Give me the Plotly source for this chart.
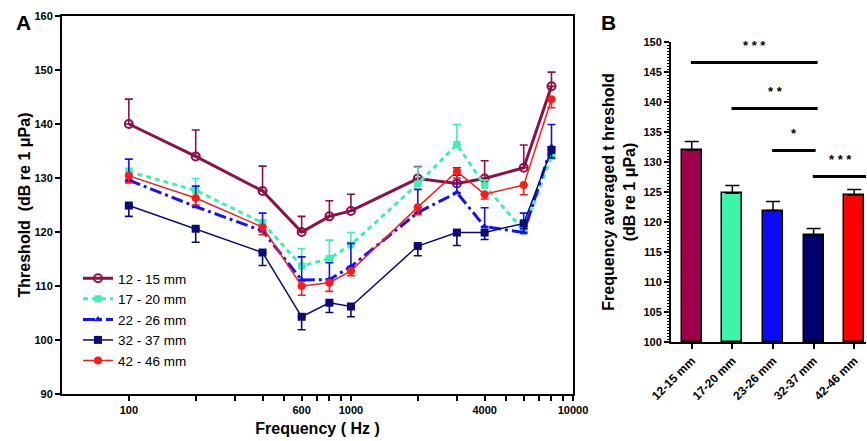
import math
import plotly.graph_objects as go

# ---------------- data: panel A ----------------
freqs = [100, 200, 400, 600, 800, 1000, 2000, 3000, 4000, 6000, 8000]

names = ["12 - 15 mm", "17 - 20 mm", "22 - 26 mm", "32 - 37 mm", "42 - 46 mm"]

thr_12_15 = [140.0, 134.0, 127.6, 120.0, 122.9, 123.9, 129.9, 129.0, 129.9, 131.9, 147.0]
err_12_15 = [4.6, 4.9, 4.6, 2.9, 2.9, 3.1, 2.2, 2.9, 3.3, 4.2, 2.6]

thr_17_20 = [131.2, 127.7, 121.7, 113.7, 115.1, 117.6, 128.9, 136.2, 128.6, 120.2, 134.0]
err_17_20 = [0.6, 2.2, 0.5, 3.2, 3.4, 2.3, 3.1, 3.7, 1.0, 0.5, 0.5]

thr_22_26 = [129.6, 124.7, 120.2, 111.1, 111.2, 113.6, 123.6, 127.3, 121.0, 119.9, 135.8]
err_22_26 = [3.9, 3.8, 3.3, 4.3, 3.1, 4.3, 4.3, 3.2, 3.5, 3.6, 4.1]

thr_32_37 = [124.9, 120.6, 116.2, 104.3, 106.9, 106.2, 117.4, 119.9, 119.9, 121.6, 135.2]
err_32_37 = [2.0, 2.5, 2.4, 2.4, 1.8, 1.9, 1.8, 2.4, 1.3, 1.0, 1.5]

thr_42_46 = [130.4, 126.3, 120.9, 110.0, 110.6, 112.8, 124.6, 131.2, 127.0, 128.7, 144.6]
err_42_46 = [1.3, 1.3, 1.4, 1.7, 1.6, 0.9, 1.4, 1.2, 0.9, 1.8, 1.6]

x_tickvals = [100, 200, 300, 400, 500, 600, 700, 800, 900, 1000,
              2000, 3000, 4000, 5000, 6000, 7000, 8000, 9000, 10000]
x_labelled = [100, 600, 1000, 4000, 10000]

# ---------------- data: panel B ----------------
groups = ["12-15 mm", "17-20 mm", "23-26 mm", "32-37 mm", "42-46 mm"]
avg_thr = [132.0, 124.8, 121.9, 117.8, 124.5]
avg_err = [1.4, 1.3, 1.5, 1.1, 0.9]

sig_labels = ["* * *", "* *", "*", "* * *"]
sig_from = [0, 1, 2, 3]
sig_to = [3.1, 3.1, 3.05, 4.3]
sig_level = [146.6, 138.9, 131.9, 127.6]

# ---------------- styles ----------------
line_colors = ["#8E1049", "#3FF0AE", "#1414F0", "#0A0A78", "#FF1A1A"]
bar_colors = ["#A0004B", "#3CF5A8", "#0A0AFF", "#00006E", "#FF0000"]
styles = [
    dict(width=3, dash="solid", symbol="circle-open", size=8, up=True),
    dict(width=3, dash="5px,4px", symbol="square", size=7, up=True),
    dict(width=3, dash="12px,4px,3px,4px", symbol="triangle-up", size=7, up=True),
    dict(width=1.5, dash="solid", symbol="square", size=8, up=False),
    dict(width=1.5, dash="solid", symbol="circle", size=8, up=False),
]
series = [thr_12_15, thr_17_20, thr_22_26, thr_32_37, thr_42_46]
errors = [err_12_15, err_17_20, err_22_26, err_32_37, err_42_46]

FONT = "Arial, Liberation Sans, Helvetica, sans-serif"
W, H = 867, 441

fig = go.Figure()

for name, vals, errs, col, st in zip(names, series, errors, line_colors, styles):
    zeros = [0] * len(errs)
    fig.add_trace(go.Scatter(
        x=freqs, y=vals, name=name, mode="lines+markers",
        line=dict(color=col, width=st["width"], dash=st["dash"]),
        marker=dict(symbol=st["symbol"], size=st["size"], color=col,
                    line=dict(color=col, width=2 if st["symbol"] == "circle-open" else 0)),
        error_y=dict(type="data", symmetric=False,
                     array=errs if st["up"] else zeros,
                     arrayminus=zeros if st["up"] else errs,
                     color=col, thickness=1.6, width=4),
        xaxis="x", yaxis="y",
    ))

fig.add_trace(go.Bar(
    x=groups, y=[v - 100 for v in avg_thr], base=100,
    marker=dict(color=bar_colors, line=dict(color="black", width=1.5)),
    width=0.49,
    error_y=dict(type="data", symmetric=False, array=avg_err, arrayminus=[0] * 5,
                 color="black", thickness=1.5, width=7),
    showlegend=False, xaxis="x2", yaxis="y2",
))

shapes = []
annotations = []
for lab, a, b, lvl in zip(sig_labels, sig_from, sig_to, sig_level):
    shapes.append(dict(type="line", xref="x2", yref="y2", x0=a - 0.02, x1=b,
                       y0=lvl, y1=lvl, line=dict(color="black", width=3)))
    annotations.append(dict(xref="x2", yref="y2", x=(a + b) / 2, y=lvl + 1.2,
                            text=lab, showarrow=False, yanchor="bottom",
                            font=dict(family=FONT, size=13, color="black", weight="bold")))

annotations.append(dict(xref="paper", yref="paper", x=14 / W, y=1 - 9 / H,
                        text="A", showarrow=False, xanchor="left", yanchor="top",
                        font=dict(family=FONT, size=21, color="black", weight="bold")))
annotations.append(dict(xref="paper", yref="paper", x=599 / W, y=1 - 9 / H,
                        text="B", showarrow=False, xanchor="left", yanchor="top",
                        font=dict(family=FONT, size=21, color="black", weight="bold")))

tickfont = dict(family=FONT, size=11, color="black", weight="bold")
titlefont = dict(family=FONT, size=16, color="black", weight="bold")

fig.update_layout(
    width=W, height=H,
    margin=dict(l=0, r=0, t=0, b=0),
    paper_bgcolor="white", plot_bgcolor="white",
    font=dict(family=FONT, color="black"),
    shapes=shapes, annotations=annotations,
    bargap=0,
    legend=dict(x=78 / W, y=1 - 263 / H, xanchor="left", yanchor="top",
                font=dict(family=FONT, size=13.5, color="black"),
                bgcolor="rgba(0,0,0,0)", itemwidth=30, tracegroupgap=0),
    xaxis=dict(type="log", range=[math.log10(50), 4], domain=[62 / W, 573 / W],
               tickmode="array", tickvals=x_tickvals,
               ticktext=[str(v) if v in x_labelled else "" for v in x_tickvals],
               ticks="outside", ticklen=5, tickwidth=1.5, tickcolor="black",
               showline=True, linecolor="black", linewidth=2, mirror=True,
               showgrid=False, zeroline=False, tickfont=tickfont, automargin=False,
               title=dict(text="Frequency ( Hz )", font=titlefont, standoff=8),
               anchor="y"),
    yaxis=dict(range=[90, 160], domain=[1 - 394 / H, 1 - 16 / H], dtick=10,
               ticks="outside", ticklen=5, tickwidth=1.5, tickcolor="black",
               showline=True, linecolor="black", linewidth=2, mirror=True,
               showgrid=False, zeroline=False, tickfont=tickfont, automargin=False,
               title=dict(text="Threshold  (dB re 1 μPa)", font=titlefont, standoff=0),
               anchor="x"),
    xaxis2=dict(type="category", range=[-0.51, 4.29], domain=[671 / W, 866 / W],
                ticks="outside", ticklen=5, tickwidth=2, tickcolor="black",
                showline=True, linecolor="black", linewidth=2,
                showgrid=False, zeroline=False, tickangle=-45, automargin=False,
                tickfont=dict(family=FONT, size=12, color="black", weight="bold"),
                anchor="y2"),
    yaxis2=dict(range=[100, 150], domain=[1 - 342 / H, 1 - 42 / H], dtick=5,
                ticks="outside", ticklen=5, tickwidth=1.5, tickcolor="black",
                minor=dict(dtick=0.5, ticks="outside", ticklen=2.5, tickwidth=1, tickcolor="black"),
                showline=True, linecolor="black", linewidth=2,
                showgrid=False, zeroline=False, tickfont=tickfont, automargin=False,
                title=dict(text="Frequency averaged t hreshold<br>(dB re 1 μPa)",
                           font=titlefont, standoff=4),
                anchor="x2"),
)

fig.write_html("out.html", config={"displayModeBar": False},
               post_script="document.body.style.margin='0';document.body.style.overflow='hidden';")
